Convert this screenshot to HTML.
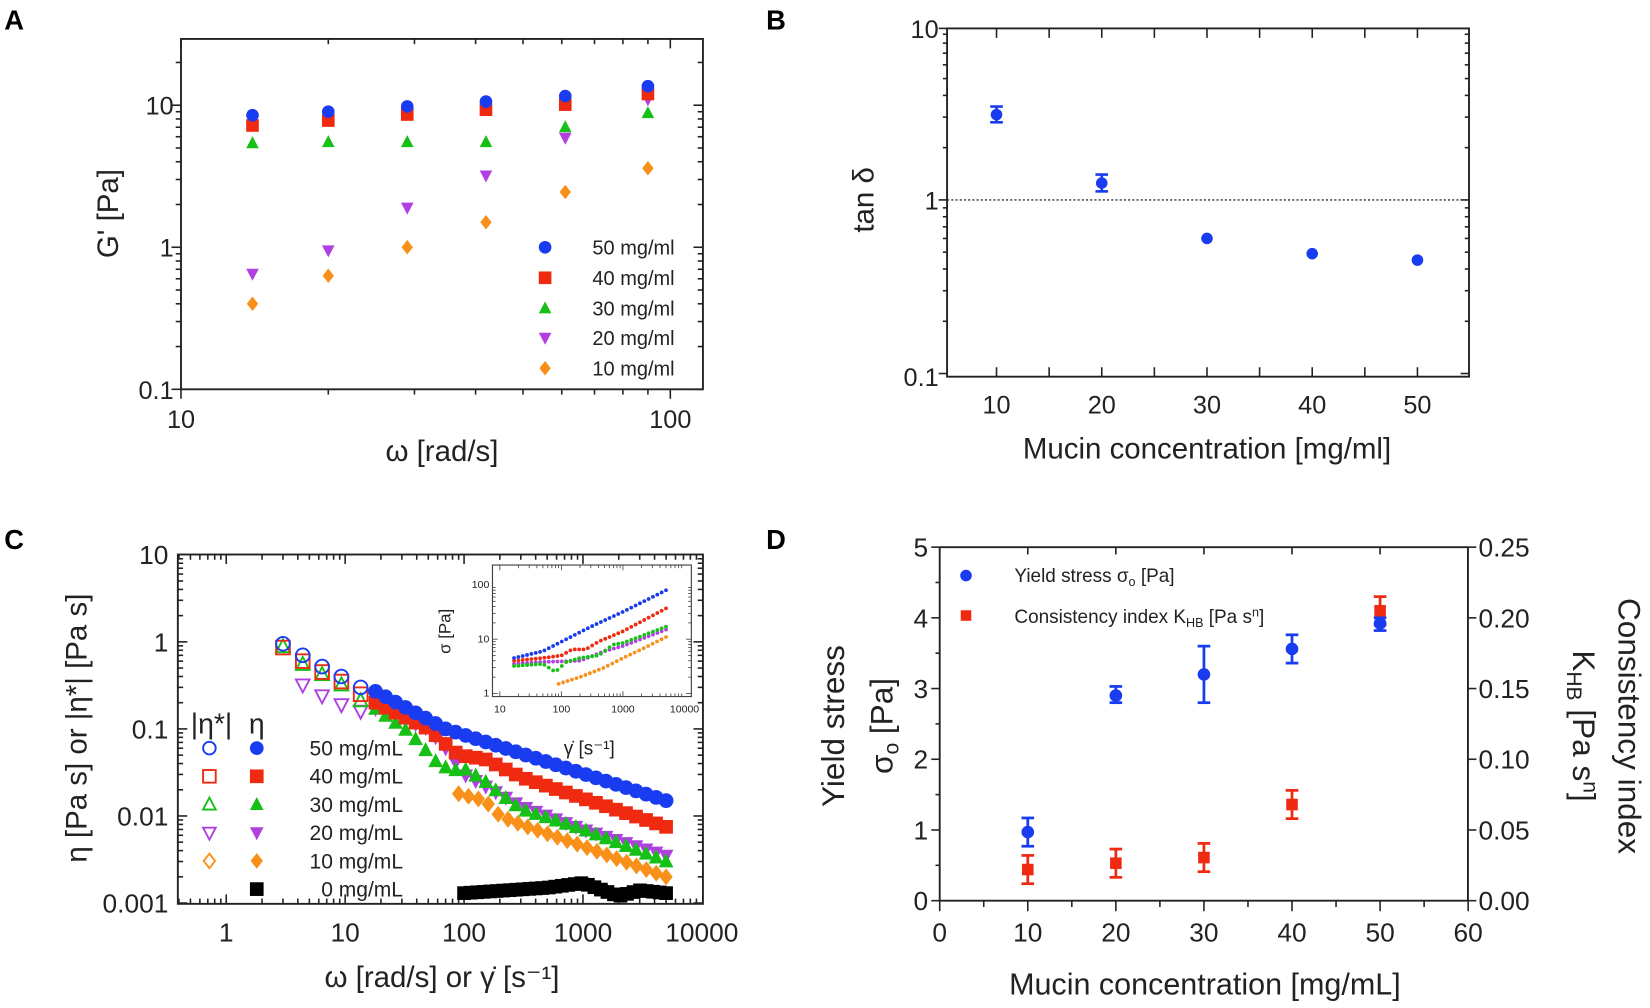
<!DOCTYPE html>
<html><head><meta charset="utf-8">
<style>
html,body{margin:0;padding:0;background:#fff;}
svg{display:block;}
text{font-family:"Liberation Sans Narrow","Liberation Sans",sans-serif;fill:#222;}
.L{font-family:"Liberation Sans",sans-serif;font-weight:bold;fill:#000;}
</style></head>
<body>
<svg id="s" xmlns="http://www.w3.org/2000/svg" width="1650" height="1008" viewBox="0 0 1568 958" preserveAspectRatio="none">
<rect width="1568" height="958" fill="#fff"/>
<text class="L" x="4" y="28" font-size="26">A</text>
<text class="L" x="728" y="28" font-size="26">B</text>
<text class="L" x="4" y="522" font-size="26">C</text>
<text class="L" x="728" y="522" font-size="26">D</text>
</svg>
<script>
const S=document.getElementById('s');const NS='http://www.w3.org/2000/svg';
function el(t,a,txt){const e=document.createElementNS(NS,t);for(const k in a)e.setAttribute(k,a[k]);if(txt!==undefined)e.textContent=txt;S.appendChild(e);return e;}
function line(x1,y1,x2,y2,w,c,extra){return el('line',Object.assign({x1,y1,x2,y2,stroke:c||'#222','stroke-width':w||1.5},extra||{}));}
function txt(x,y,s,fs,anchor,extra){return el('text',Object.assign({x,y,'font-size':fs,'text-anchor':anchor||'middle'},extra||{}),s);}
function mk(shape,x,y,r,col,filled){
  const f=filled?col:'none',st=filled?'none':col,sw=filled?0:1.8;
  const a={fill:f,stroke:st,'stroke-width':sw};
  if(shape=='c')return el('circle',Object.assign({cx:x,cy:y,r},a));
  if(shape=='s')return el('rect',Object.assign({x:x-r,y:y-r,width:2*r,height:2*r},a));
  let p;
  if(shape=='u')p=[[x,y-r*1.1],[x+r,y+r*0.8],[x-r,y+r*0.8]];
  if(shape=='d')p=[[x,y+r*1.1],[x+r,y-r*0.8],[x-r,y-r*0.8]];
  if(shape=='k')p=[[x,y-r*1.15],[x+r*0.9,y],[x,y+r*1.15],[x-r*0.9,y]];
  return el('polygon',Object.assign({points:p.map(q=>q.join(',')).join(' ')},a));
}
const lg=Math.log10;
const BL='#1a3cf0',RD='#f02a10',GR='#16c016',PU='#b040e0',OR='#f8901a';

/* ---------- Panel A ---------- */
(function(){
const X=w=>172+465*lg(w/10),Y=g=>235-135*lg(g);
el('rect',{x:172,y:37,width:496,height:333,fill:'none',stroke:'#222','stroke-width':1.8});
for(let d of [10,100])for(let m=1;m<10;m++){const w=d*m;const x=X(w);if(x<172||x>668)continue;const L=m==1?9:5;line(x,370,x,370+L);line(x,37,x,37+L);}
for(let d of [0.1,1,10])for(let m=1;m<10;m++){const g=d*m;const y=Y(g);if(y<37||y>370)continue;const L=m==1?9:5;line(172,y,172-L,y);line(668,y,668-L,y);}
txt(172,407,'10',24);txt(637,407,'100',24);
txt(165,109,'10',24,'end');txt(165,244,'1',24,'end');txt(165,379,'0.1',24,'end');
txt(0,0,"G' [Pa]",28,'middle',{transform:'translate(112,203) rotate(-90)'});
txt(420,438,'ω [rad/s]',28);
const xs=[14,20,29,42,61,90];
const data=[['k',OR,[0.4,0.63,1.0,1.5,2.45,3.6]],['d',PU,[0.65,0.95,1.9,3.2,5.9,11]],['u',GR,[5.4,5.5,5.5,5.5,7.0,8.8]],['s',RD,[7.2,7.8,8.6,9.3,10.1,12]],['c',BL,[8.5,9.0,9.8,10.6,11.6,13.6]]];
for(const [sh,c,v] of data)v.forEach((g,i)=>mk(sh,X(xs[i]),Y(g),6,c,true));
const ly=[235,264,293,321,350],lab=['50 mg/ml','40 mg/ml','30 mg/ml','20 mg/ml','10 mg/ml'],ls=[['c',BL],['s',RD],['u',GR],['d',PU],['k',OR]];
ly.forEach((y,i)=>{mk(ls[i][0],518,y,6,ls[i][1],true);txt(563,y+7,lab[i],19,'start');});
})();

/* ---------- Panel B ---------- */
(function(){
const X=c=>947+10*(c-10),Y=t=>190-165*lg(t);
el('rect',{x:900,y:27,width:496,height:331,fill:'none',stroke:'#222','stroke-width':1.8});
for(let c=10;c<=50;c+=5){const x=X(c);line(x,358,x,349);line(x,27,x,36);}
for(let d of [0.1,1])for(let m=1;m<10;m++){const y=Y(d*m);const L=m==1?8:4;line(900,y,900-L,y);line(1396,y,1396-L,y);}
line(900,27,892,27);
line(900,190,1396,190,1.3,'#333',{'stroke-dasharray':'2,2'});
[10,20,30,40,50].forEach(c=>txt(X(c),393,String(c),24));
txt(892,36,'10',24,'end');txt(892,199,'1',24,'end');txt(892,367,'0.1',24,'end');
txt(0,0,'tan δ',28,'middle',{transform:'translate(830,190) rotate(-90)'});
txt(1147,436,'Mucin concentration [mg/ml]',28);
const pts=[[10,3.1,2.8,3.45],[20,1.25,1.12,1.4],[30,0.6],[40,0.49],[50,0.45]];
for(const p of pts){const x=X(p[0]);if(p[2]){line(x,Y(p[2]),x,Y(p[3]),2.5,BL);line(x-6,Y(p[2]),x+6,Y(p[2]),2.5,BL);line(x-6,Y(p[3]),x+6,Y(p[3]),2.5,BL);}mk('c',x,Y(p[1]),5.5,BL,true);}
})();

/* ---------- Panel C ---------- */
(function(){
const X=w=>215+113*lg(w),Y=e=>610-82.75*lg(e);
const L0=169,R0=668,T0=527,B0=859;
el('rect',{x:L0,y:T0,width:R0-L0,height:B0-T0,fill:'none',stroke:'#222','stroke-width':1.8});
for(let d of [0.1,1,10,100,1000])for(let m=1;m<10;m++){const x=X(d*m);if(x<L0||x>R0)continue;const L=m==1?9:5;line(x,B0,x,B0-L);line(x,T0,x,T0+L);}
for(let d of [0.001,0.01,0.1,1])for(let m=1;m<10;m++){const y=Y(d*m);const L=m==1?9:5;line(L0,y,L0+L,y);line(R0,y,R0-L,y);}
[[1,'1'],[10,'10'],[100,'100'],[1000,'1000'],[10000,'10000']].forEach(a=>txt(X(a[0]),895,a[1],25));
[[10,'10'],[1,'1'],[0.1,'0.1'],[0.01,'0.01'],[0.001,'0.001']].forEach(a=>txt(160,Y(a[0])+9,a[1],25,'end'));
txt(0,0,'η [Pa s] or |η*| [Pa s]',28,'middle',{transform:'translate(82,692) rotate(-90)'});
txt(420,938,'ω [rad/s] or γ̇ [s⁻¹]',28,'middle',{'font-family':'Liberation Serif,serif'});
function interp(a,w){const lw=lg(w);for(let i=0;i<a.length-1;i++){const x0=lg(a[i][0]),x1=lg(a[i+1][0]);if(lw>=x0&&lw<=x1){const t=(lw-x0)/(x1-x0);return Math.pow(10,lg(a[i][1])+t*(lg(a[i+1][1])-lg(a[i][1])));}}return null;}
function series(a,sh,c,r,n){const s=lg(a[0][0]),e=lg(a[a.length-1][0]);const N=Math.round((e-s)*n);for(let i=0;i<=N;i++){const w=Math.pow(10,s+(e-s)*i/N);mk(sh,X(w),Y(interp(a,w)),r,c,true);}}
const ow=[3,4.4,6.4,9.3,13.5];
const open=[['d',PU,[null,0.32,0.24,0.19,0.16]],['u',GR,[0.88,0.55,0.42,0.32,0.21]],['s',RD,[0.86,0.6,0.45,0.35,0.25]],['c',BL,[0.95,0.7,0.52,0.4,0.3]]];
for(const [sh,c,v] of open)v.forEach((e,i)=>{if(e)mk(sh,X(ow[i]),Y(e),6.5,c,false);});
series([[100,0.0013],[500,0.0015],[1000,0.0017],[2000,0.0012],[3000,0.0014],[5000,0.0013]],'s','#000',6.5,18);
series([[90,0.018],[150,0.015],[200,0.01],[300,0.008],[1000,0.0045],[5000,0.002]],'k',OR,7,12);
series([[18,0.17],[50,0.1],[70,0.06],[100,0.03],[150,0.022],[300,0.013],[1000,0.007],[5000,0.0035]],'d',PU,7,12);
series([[18,0.17],[35,0.09],[60,0.04],[80,0.033],[100,0.035],[150,0.025],[200,0.018],[300,0.012],[1000,0.007],[5000,0.003]],'u',GR,7,12);
series([[18,0.2],[50,0.1],[90,0.05],[150,0.045],[300,0.028],[5000,0.0075]],'s',RD,6.5,12);
series([[18,0.27],[70,0.1],[5000,0.015]],'c',BL,7,12);
/* legend */
txt(201,697,'|η*|',27,'middle',{'font-family':'Liberation Serif,serif'});
txt(244,697,'η',27,'middle',{'font-family':'Liberation Serif,serif'});
const rows=[['c',BL,'50 mg/mL'],['s',RD,'40 mg/mL'],['u',GR,'30 mg/mL'],['d',PU,'20 mg/mL'],['k',OR,'10 mg/mL'],['s','#000','0 mg/mL']];
rows.forEach((r,i)=>{const y=711+26.8*i;if(i<5)mk(r[0],199,y,6,r[1],false);mk(r[0],244,y,6.5,r[1],true);txt(383,y+7,r[2],20,'end');});
/* inset */
const IX=g=>475+58.5*lg(g/10),IY=s=>659-51.5*lg(s);
const il=468,ir=657,it=537,ib=662;
el('rect',{x:il,y:it,width:ir-il,height:ib-it,fill:'#fff',stroke:'#444','stroke-width':1.1});
for(let d of [10,100,1000])for(let m=1;m<10;m++){const x=IX(d*m);if(x<il||x>ir)continue;const L=m==1?5:3;line(x,ib,x,ib-L,0.8,'#444');line(x,it,x,it+L,0.8,'#444');}
for(let d of [1,10])for(let m=1;m<10;m++){const y=IY(d*m);if(y<it)continue;const L=m==1?5:3;line(il,y,il+L,y,0.8,'#444');line(ir,y,ir-L,y,0.8,'#444');}
[[10,'10'],[100,'100'],[1000,'1000'],[10000,'10000']].forEach(a=>txt(IX(a[0]),677,a[1],10));
[[100,'100'],[10,'10'],[1,'1']].forEach(a=>txt(il-3,IY(a[0])+3,a[1],10,'end'));
txt(0,0,'σ [Pa]',16,'middle',{transform:'translate(428,600) rotate(-90)','font-family':'Liberation Serif,serif'});
txt(560,717,'γ̇ [s⁻¹]',18,'middle',{'font-family':'Liberation Serif,serif'});
function iser(a,c,n){const s=lg(a[0][0]),e=lg(a[a.length-1][0]);const N=Math.round((e-s)*n);for(let i=0;i<=N;i++){const w=Math.pow(10,s+(e-s)*i/N);el('circle',{cx:IX(w),cy:IY(interp(a,w)),r:1.8,fill:c});}}
iser([[90,1.5],[200,2],[500,3],[1000,4.5],[2000,6.5],[5000,11]],OR,14);
iser([[17,3.5],[50,3.8],[200,4],[500,6],[1000,7.5],[5000,15]],PU,14);
iser([[17,3.2],[50,3.5],[80,2.5],[120,3.8],[200,4.5],[400,5],[700,8],[1000,8.5],[5000,17]],GR,14);
iser([[17,4],[50,4.5],[100,5],[150,6.5],[250,6.5],[400,9],[1000,14],[5000,37]],RD,14);
iser([[17,4.5],[50,6],[100,9],[300,17],[1000,32],[5000,80]],BL,14);
})();

/* ---------- Panel D ---------- */
(function(){
const X=c=>893+8.37*c,Y=v=>856-67.2*v;
line(893,520,1395,520,1.8);line(893,520,893,856,1.8);line(893,856,1395,856,1.8);line(1395,520,1395,856,1.8);
for(let c=0;c<=60;c+=5){const x=X(c);line(x,856,x,c%10?862:866);}
for(let c=10;c<=50;c+=10){const x=X(c);line(x,520,x,527);}
for(let v=0;v<=5;v++){line(893,Y(v),885,Y(v));line(1395,Y(v),1403,Y(v));}
for(let v=0.5;v<5;v+=1){line(893,Y(v),889,Y(v));}
for(let c=0;c<=60;c+=10)txt(X(c),895,String(c),25);
for(let v=0;v<=5;v++)txt(882,Y(v)+9,String(v),25,'end');
['0.00','0.05','0.10','0.15','0.20','0.25'].forEach((s,i)=>txt(1405,Y(i)+9,s,25,'start'));
txt(0,0,'Yield stress',30,'middle',{transform:'translate(802,690) rotate(-90)','font-family':'Liberation Sans,sans-serif'});
const g=txt(0,0,'',30,'middle',{transform:'translate(848,690) rotate(-90)','font-family':'Liberation Sans,sans-serif'});
g.innerHTML='σ<tspan font-size="20" dy="6">o</tspan><tspan dy="-6"> [Pa]</tspan>';
txt(0,0,'Consistency index',30,'middle',{transform:'translate(1538,690) rotate(90)','font-family':'Liberation Sans,sans-serif'});
const k=txt(0,0,'',30,'middle',{transform:'translate(1495,690) rotate(90)','font-family':'Liberation Sans,sans-serif'});
k.innerHTML='K<tspan font-size="20" dy="6">HB</tspan><tspan dy="-6"> [Pa s</tspan><tspan font-size="20" dy="-10">n</tspan><tspan dy="10">]</tspan>';
txt(1145,945,'Mucin concentration [mg/mL]',29);
function eb(c,v,lo,hi,col,sh){const x=X(c);line(x,Y(lo),x,Y(hi),2.6,col);line(x-6,Y(lo),x+6,Y(lo),2.6,col);line(x-6,Y(hi),x+6,Y(hi),2.6,col);mk(sh,x,Y(v),sh=='c'?6:5.5,col,true);}
[[10,0.44,0.24,0.64],[20,0.53,0.33,0.73],[30,0.61,0.41,0.81],[40,1.36,1.16,1.56]].forEach(p=>eb(p[0],p[1],p[2],p[3],RD,'s'));
[[10,0.97,0.77,1.17],[20,2.9,2.8,3.03],[30,3.2,2.8,3.6],[40,3.56,3.36,3.76]].forEach(p=>eb(p[0],p[1],p[2],p[3],BL,'c'));
eb(50,4.1,3.9,4.3,RD,'s');eb(50,3.92,3.82,4.0,BL,'c');
mk('c',918,547,5.5,BL,true);
const t1=txt(964,553,'',18,'start');t1.innerHTML='Yield stress σ<tspan font-size="12" dy="4">o</tspan><tspan dy="-4"> [Pa]</tspan>';
mk('s',918,585,5,RD,true);
const t2=txt(964,592,'',18,'start');t2.innerHTML='Consistency index K<tspan font-size="12" dy="4">HB</tspan><tspan dy="-4"> [Pa s</tspan><tspan font-size="12" dy="-6">n</tspan><tspan dy="6">]</tspan>';
})();
</script>
</body></html>
